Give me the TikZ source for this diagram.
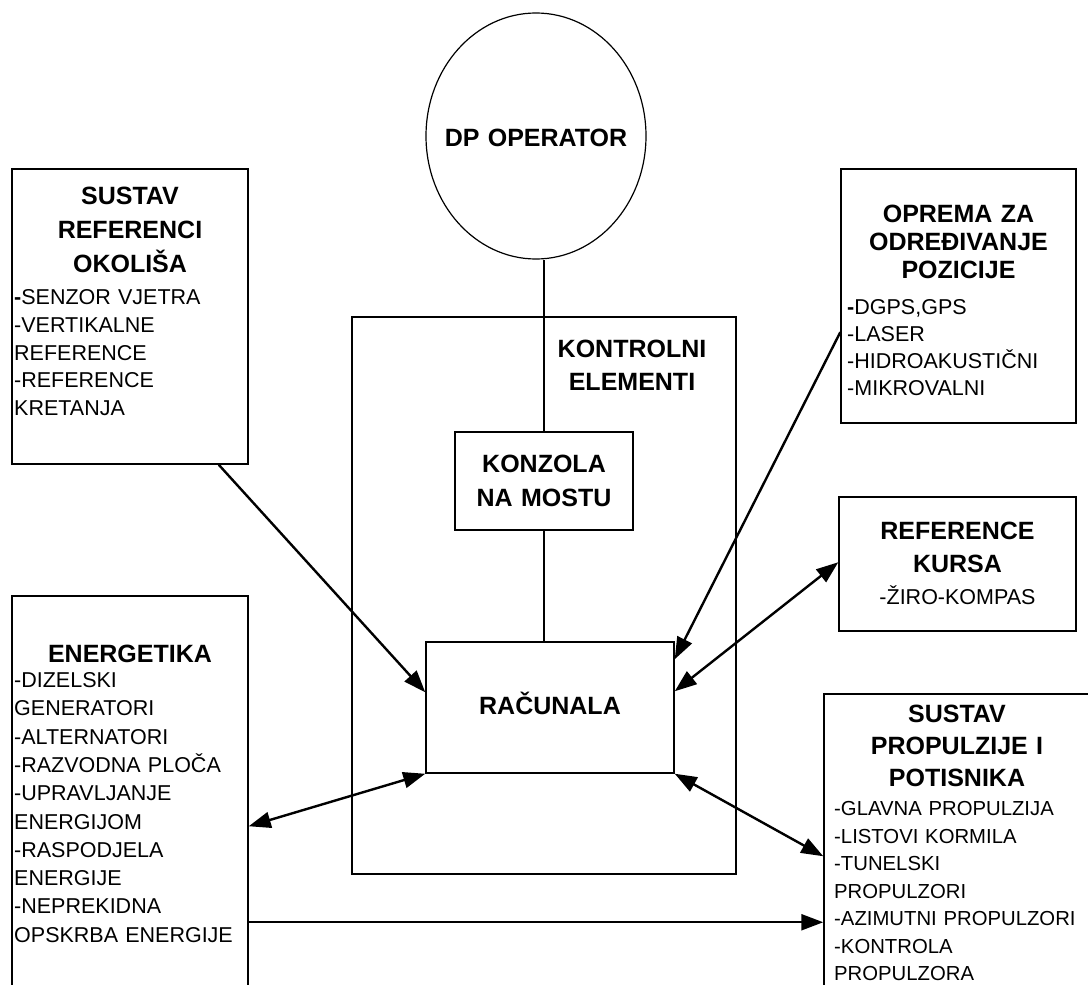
\documentclass[tikz,border=0pt]{standalone}
\usepackage{fontspec}
\setmainfont{Liberation Sans}
\usetikzlibrary{arrows.meta,calc,shapes.geometric}
\begin{document}
\begin{tikzpicture}[x=1pt,y=-1pt,
  boxnode/.style={draw, line width=1.5pt, inner sep=0pt, rectangle},
  ttl/.style={font=\bfseries\fontsize{25}{33}\selectfont, align=center, text width=#1, inner sep=0pt, anchor=base},
  itm/.style={font=\fontsize{21.5}{28}\selectfont, align=left, text width=#1, inner sep=0pt, anchor=base west},
  conn/.style={line width=1.8pt},
  arr/.style={line width=2.4pt, -{Triangle[length=22pt,width=16pt]}},
  darr/.style={line width=2.4pt, {Triangle[length=22pt,width=16pt]}-{Triangle[length=22pt,width=16pt]}}
]
\useasboundingbox (0,0) rectangle (1088,985);
\clip (0,0) rectangle (1088,985);

% boxes
\node[draw, ellipse, line width=1.2pt, minimum width=220pt, minimum height=246pt, inner sep=0pt] (op) at (536,136) {};
\node[boxnode, minimum width=384pt, minimum height=557pt] (kont) at (544,595.5) {};
\node[boxnode, minimum width=178pt, minimum height=98pt] (konz) at (544,481) {};
\node[boxnode, minimum width=248pt, minimum height=131pt] (rac) at (550,707.5) {};
\node[boxnode, minimum width=236pt, minimum height=295pt] (sus) at (130,316.5) {};
\node[boxnode, minimum width=235pt, minimum height=254pt] (opr) at (958.5,296) {};
\node[boxnode, minimum width=237pt, minimum height=134pt] (ref) at (957.5,564) {};
\node[boxnode, minimum width=236pt, minimum height=404pt] (ene) at (130,798) {};
\node[boxnode, minimum width=266pt, minimum height=306pt] (pro) at (957,847) {};

% texts
\node[ttl=220pt] (opT) at (536,146) {DP OPERATOR};
\node[ttl=200pt] (kontT) at (632,357) {KONTROLNI\\ELEMENTI};
\node[ttl=170pt, font=\bfseries\fontsize{25}{34}\selectfont] (konzT) at (544,472) {KONZOLA\\NA MOSTU};
\node[ttl=240pt] (racT) at (550,714) {RAČUNALA};

\node[ttl=230pt, font=\bfseries\fontsize{25}{34}\selectfont] (susT) at (130,204) {SUSTAV\\REFERENCI\\OKOLIŠA};
\node[itm=300pt, font=\fontsize{21.5}{27.8}\selectfont] (susI) at (14,304.5) {\textbf{-}SENZOR VJETRA\\-VERTIKALNE\\REFERENCE\\-REFERENCE\\KRETANJA};

\node[ttl=232pt, font=\bfseries\fontsize{25}{28}\selectfont] (oprT) at (958.5,222) {OPREMA ZA\\ODREĐIVANJE\\POZICIJE};
\node[itm=300pt, font=\fontsize{21.5}{27}\selectfont] (oprI) at (847,314.5) {\textbf{-}DGPS,GPS\\-LASER\\-HIDROAKUSTIČNI\\-MIKROVALNI};

\node[ttl=232pt] (refT) at (957.5,539) {REFERENCE\\KURSA};
\node[ttl=232pt, font=\fontsize{21.5}{28}\selectfont] (refI) at (957.5,604.5) {-ŽIRO-KOMPAS};

\node[ttl=232pt] (eneT) at (130,662) {ENERGETIKA};
\node[itm=300pt, font=\fontsize{21.5}{28.3}\selectfont] (eneI) at (14,687.5) {-DIZELSKI\\GENERATORI\\-ALTERNATORI\\-RAZVODNA PLOČA\\-UPRAVLJANJE\\ENERGIJOM\\-RASPODJELA\\ENERGIJE\\-NEPREKIDNA\\OPSKRBA ENERGIJE};

\node[ttl=260pt, font=\bfseries\fontsize{25}{32}\selectfont] (proT) at (957,722) {SUSTAV\\PROPULZIJE I\\POTISNIKA};
\node[itm=300pt, font=\fontsize{20.3}{27.5}\selectfont] (proI) at (834,815.5) {-GLAVNA PROPULZIJA\\-LISTOVI KORMILA\\-TUNELSKI\\PROPULZORI\\-AZIMUTNI PROPULZORI\\-KONTROLA\\PROPULZORA};

% connectors
\draw[conn] (konz.north) -- (konz.north |- op.south);
\draw[conn] (konz.south) -- (konz.south |- rac.north);
\draw[arr] ($(sus.south east)+(-30,0)$) -- ($(rac.north west)+(0,51)$);
\draw[arr] ($(opr.north west)+(0,164)$) -- ($(rac.north east)+(0,18)$);
\draw[darr] ($(ref.north west)+(0,66)$) -- ($(rac.north east)+(0,50)$);
\draw[darr] ($(ene.north east)+(0,231)$) -- (rac.south west);
\draw[darr] ($(pro.north west)+(0,163)$) -- (rac.south east);
\draw[arr] ($(ene.north east)+(0,327)$) -- ($(pro.north west)+(0,229)$);
\end{tikzpicture}
\end{document}
